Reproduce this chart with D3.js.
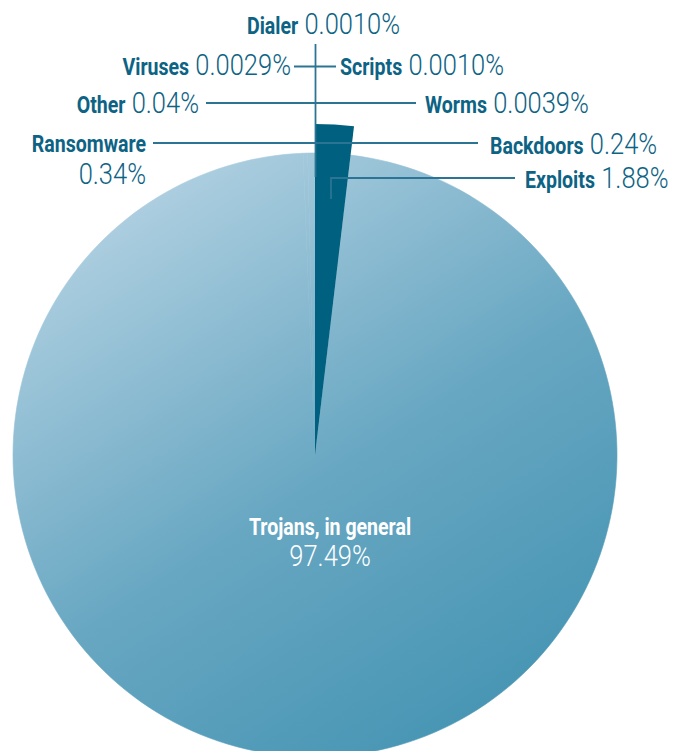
<!DOCTYPE html>
<html>
<head>
<meta charset="utf-8">
<script src="https://cdn.jsdelivr.net/npm/d3@7"></script>
<style>
  html, body { margin: 0; padding: 0; background: #ffffff; }
  svg { display: block; }
  text { font-family: Roboto, "Open Sans", "DejaVu Sans", sans-serif; }
</style>
</head>
<body>
<svg id="chart" width="689" height="751"></svg>
<script>
// ---- data ----
const categories = ["Exploits", "Trojans, in general", "Backdoors", "Ransomware", "Other", "Worms", "Viruses", "Scripts", "Dialer"];
const values     = [1.88, 97.49, 0.24, 0.34, 0.04, 0.0039, 0.0029, 0.0010, 0.0010];
const valueLabels = ["1.88%", "97.49%", "0.24%", "0.34%", "0.04%", "0.0039%", "0.0029%", "0.0010%", "0.0010%"];

// ---- layout ----
const W = 689, H = 751;
const cx = 315, cy = 455, R = 302, Rout = 331;
const textColor = "#0d6384";
const lineColor = "#2b7493";
const darkColor = "#00607f";

const svg = d3.select("#chart");
const defs = svg.append("defs");
// gradient coordinates are in the pie group's local space (origin at pie centre)
const grad = defs.append("linearGradient")
  .attr("id", "pieGrad").attr("gradientUnits", "userSpaceOnUse")
  .attr("x1", 130 - cx).attr("y1", 190 - cy).attr("x2", 470 - cx).attr("y2", 720 - cy);
grad.append("stop").attr("offset", "0%").attr("stop-color", "#b0d0e1");
grad.append("stop").attr("offset", "55%").attr("stop-color", "#68a7c2");
grad.append("stop").attr("offset", "100%").attr("stop-color", "#4896b4");

const pie = d3.pie().sort(null).value(d => d.v).startAngle(0).endAngle(2 * Math.PI);
const data = categories.map((c, i) => ({ c, v: values[i], label: valueLabels[i] }));
const arcs = pie(data);

const arcIn = d3.arc().innerRadius(0).outerRadius(R);
const arcOut = d3.arc().innerRadius(0).outerRadius(Rout);

const g = svg.append("g").attr("transform", `translate(${cx},${cy})`);

// light slices (no visible separation, tiny slices merge into the disc)
g.append("g").selectAll("path")
  .data(arcs.filter(d => d.data.c !== "Exploits"))
  .join("path")
  .attr("d", arcIn)
  .attr("fill", "url(#pieGrad)")
  .attr("stroke", "url(#pieGrad)")
  .attr("stroke-width", 0.6);

// dark Exploits wedge, drawn larger
g.append("g").selectAll("path")
  .data(arcs.filter(d => d.data.c === "Exploits"))
  .join("path")
  .attr("d", arcOut)
  .attr("fill", darkColor);

// ---- leader lines ----
const lx = cx + 0.5;
const leaders = [
  [[lx, 44], [lx, 177]],
  [[294, 66.5], [336, 66.5]],
  [[206, 103], [416, 103]],
  [[153, 143], [478, 143]],
  [[331, 199], [331, 178], [515, 178]]
];
svg.append("g").selectAll("path")
  .data(leaders)
  .join("path")
  .attr("d", d => d3.line()(d))
  .attr("fill", "none")
  .attr("stroke", lineColor)
  .attr("stroke-width", 1.8);

// ---- labels ----
const SX = 0.85;
function label(x, y, anchor, boldText, lightText, color) {
  const t = svg.append("text")
    .attr("transform", `translate(${x},${y}) scale(${SX},1)`)
    .attr("text-anchor", anchor)
    .attr("fill", color || textColor);
  if (boldText !== null) {
    t.append("tspan").attr("font-weight", 700).attr("font-size", 23).text(boldText);
  }
  if (lightText !== null) {
    t.append("tspan").attr("font-weight", 300).attr("font-size", 30)
      .text((boldText !== null ? "\u00a0" : "") + lightText);
  }
  return t;
}
const byName = Object.fromEntries(data.map(d => [d.c, d]));
label(247, 34, "start", "Dialer", byName["Dialer"].label);
label(291, 75, "end", "Viruses", byName["Viruses"].label);
label(340, 75, "start", "Scripts", byName["Scripts"].label);
label(199, 113, "end", "Other", byName["Other"].label);
label(425, 113, "start", "Worms", byName["Worms"].label);
label(146, 152, "end", "Ransomware", null);
label(146, 184, "end", null, byName["Ransomware"].label);
label(490, 154, "start", "Backdoors", byName["Backdoors"].label);
label(525, 188, "start", "Exploits", byName["Exploits"].label);

// Trojans inside
label(330, 535, "middle", "Trojans, in general", null, "#ffffff");
label(330, 566, "middle", null, byName["Trojans, in general"].label, "#ffffff");
</script>
</body>
</html>
